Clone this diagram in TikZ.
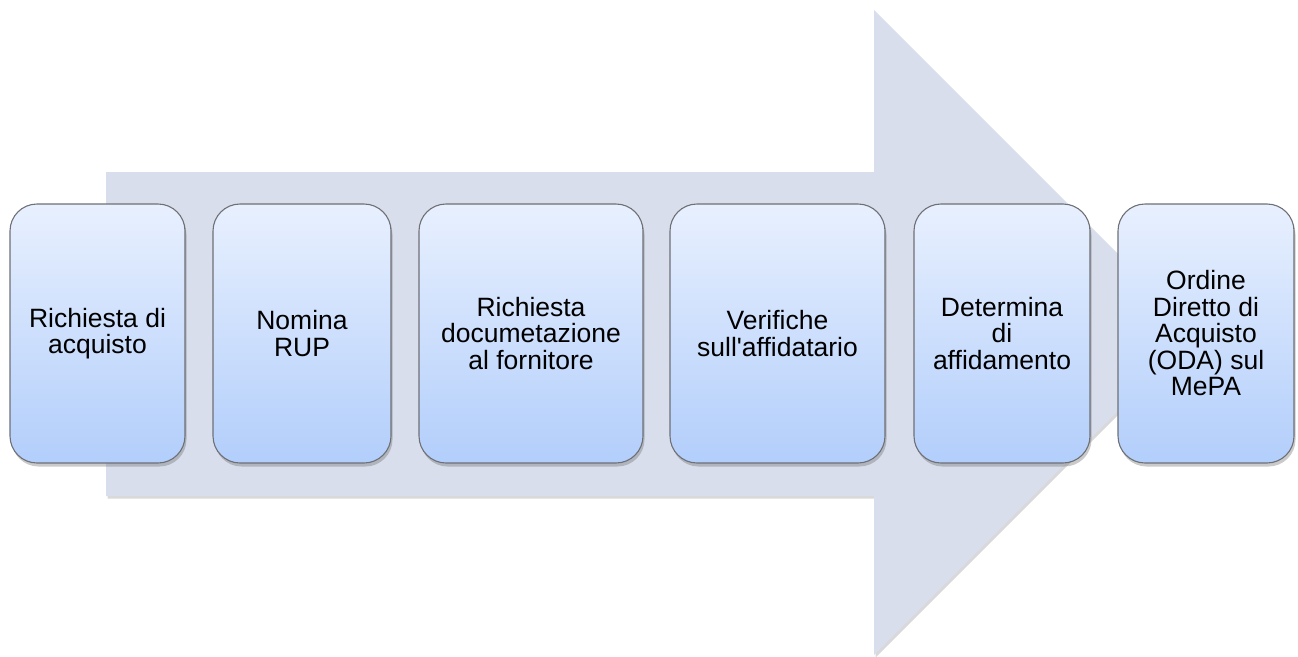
\documentclass[tikz,border=0pt]{standalone}
\usepackage{fontspec}
\setmainfont{Liberation Sans}[Ligatures=TeXOff]
\usetikzlibrary{shadows}
\definecolor{arrowfill}{RGB}{217,222,236}
\definecolor{boxtop}{RGB}{232,240,254}
\definecolor{boxbot}{RGB}{178,206,251}
\definecolor{boxline}{RGB}{110,112,118}
\tikzset{
  stepbox/.style={draw=boxline, line width=1.1pt, rounded corners=27pt,
    top color=boxtop, bottom color=boxbot, minimum height=259pt,
    inner sep=0pt, align=center, font=\fontsize{26.5}{26.5}\selectfont,
    drop shadow={shadow xshift=1.5pt, shadow yshift=-3.5pt, opacity=0.35, fill=black!60}},
  bigarrow/.style={fill=arrowfill, draw=none,
    drop shadow={shadow xshift=1.5pt, shadow yshift=-2.5pt, opacity=0.3, fill=black!50}}
}
\begin{document}
\begin{tikzpicture}[x=1pt,y=-1pt]
\useasboundingbox (0,0) rectangle (1298,656);
\path[bigarrow] (106,172) -- (874,172) -- (874,10) -- (1196.5,332.5) -- (874,655) -- (874,496) -- (106,496) -- cycle;
\node[stepbox, minimum width=175pt] (s1) at (97.5,333.5) {Richiesta di\\acquisto};
\node[stepbox, minimum width=178pt] (s2) at (302,333.5) {Nomina\\RUP};
\node[stepbox, minimum width=224pt] (s3) at (531,333.5) {Richiesta\\documetazione\\al fornitore};
\node[stepbox, minimum width=215pt] (s4) at (777.5,333.5) {Verifiche\\sull'affidatario};
\node[stepbox, minimum width=176pt] (s5) at (1002,333.5) {Determina\\di\\affidamento};
\node[stepbox, minimum width=176pt] (s6) at (1206,333.5) {Ordine\\Diretto di\\Acquisto\\(ODA) sul\\MePA};
\end{tikzpicture}
\end{document}
